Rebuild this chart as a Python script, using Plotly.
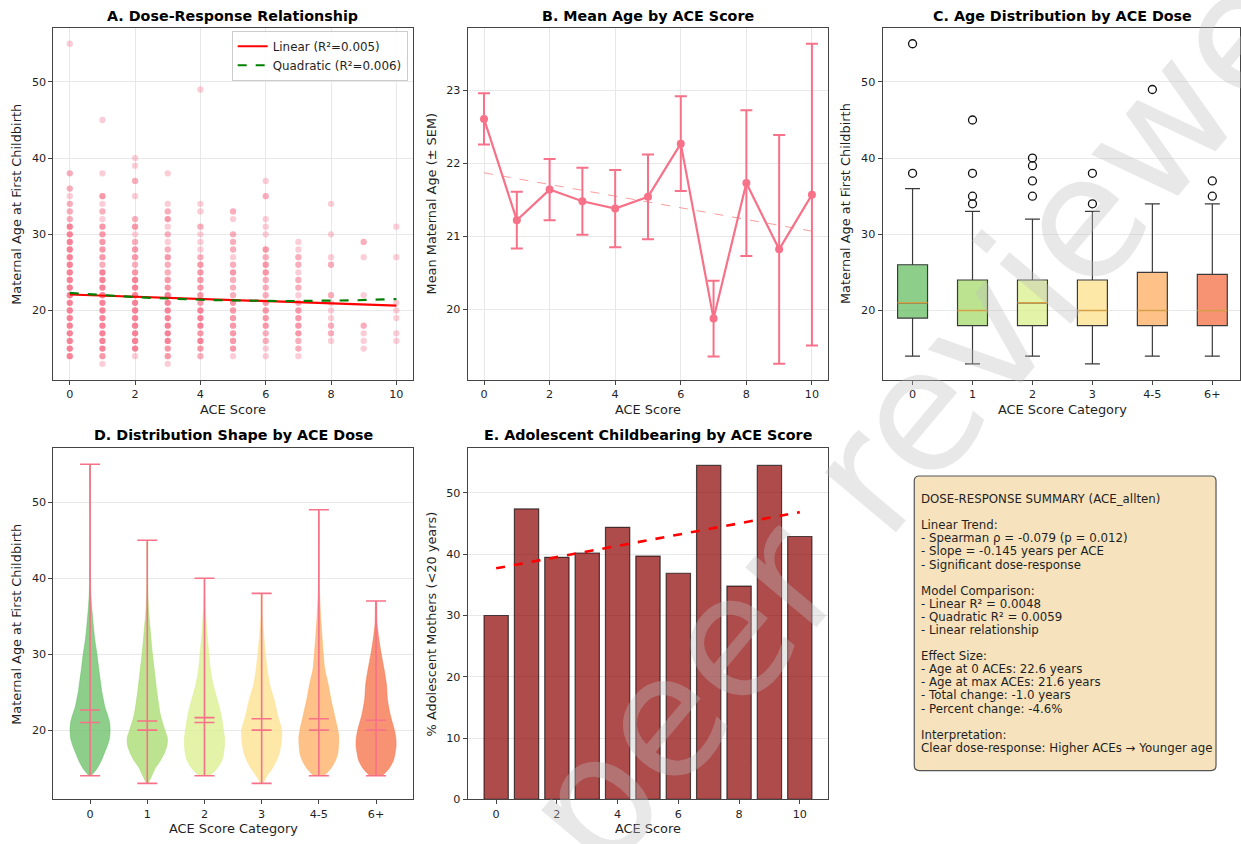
import numpy as np
import plotly.graph_objects as go

W, H = 1241, 844
FONT = "DejaVu Sans"
PINK = "#f77189"
INK = "#1f1f1f"

# ---------------- data ----------------
ace_scores = list(range(11))

# A. observed ages at first birth per ACE score, and number of mothers sharing each age
ages_by_score = [
    [55, 38, 36, 35, 34, 33, 32, 31, 30, 29, 28, 27, 26, 25, 24, 23, 22, 21, 20, 19, 18, 17, 16, 15, 14],
    [45, 38, 35, 34, 33, 32, 31, 30, 29, 28, 27, 26, 25, 24, 23, 22, 21, 20, 19, 18, 17, 16, 15, 14, 13],
    [40, 39, 37, 35, 32, 31, 30, 29, 28, 27, 26, 25, 24, 23, 22, 21, 20, 19, 18, 17, 16, 15, 14],
    [38, 34, 33, 32, 31, 30, 29, 28, 27, 26, 25, 24, 23, 22, 21, 20, 19, 18, 17, 16, 15, 14, 13],
    [49, 34, 33, 31, 30, 29, 28, 27, 26, 25, 24, 23, 22, 21, 20, 19, 18, 17, 16, 15, 14],
    [33, 32, 30, 29, 28, 27, 26, 25, 24, 23, 22, 21, 20, 19, 18, 17, 16, 15, 14],
    [37, 35, 32, 31, 30, 28, 27, 26, 25, 24, 23, 22, 21, 20, 19, 18, 17, 16, 15, 14],
    [29, 28, 27, 26, 25, 24, 23, 22, 21, 20, 19, 18, 17, 16, 15, 14],
    [34, 30, 27, 26, 22, 21, 20, 19, 18, 17, 16],
    [29, 27, 22, 18, 17, 16, 15],
    [31, 27, 21, 20, 19, 17, 16],
]
counts_by_score = [
    [1, 2, 2, 1, 2, 2, 2, 5, 5, 5, 5, 5, 5, 5, 5, 5, 5, 5, 5, 5, 5, 5, 5, 5, 5],
    [1, 1, 3, 1, 2, 1, 3, 3, 3, 3, 3, 2, 5, 5, 5, 5, 5, 5, 5, 5, 5, 5, 5, 3, 1],
    [1, 1, 2, 1, 2, 3, 1, 2, 3, 3, 2, 3, 5, 5, 5, 5, 5, 5, 5, 5, 5, 5, 1],
    [1, 1, 2, 3, 1, 2, 1, 2, 3, 2, 2, 3, 3, 5, 5, 5, 5, 5, 5, 5, 3, 3, 1],
    [1, 1, 1, 2, 1, 1, 1, 2, 3, 3, 3, 3, 3, 3, 5, 5, 5, 3, 5, 3, 2],
    [2, 1, 2, 2, 2, 1, 2, 3, 2, 2, 2, 3, 3, 3, 3, 3, 3, 3, 1],
    [1, 2, 1, 1, 1, 3, 2, 3, 3, 2, 2, 2, 3, 3, 3, 3, 2, 2, 1, 1],
    [1, 1, 2, 2, 1, 2, 2, 1, 2, 3, 3, 3, 3, 2, 2, 1],
    [1, 1, 1, 2, 2, 1, 1, 1, 2, 2, 1],
    [2, 1, 1, 2, 1, 1, 1],
    [1, 1, 1, 1, 1, 1, 1],
]
linear_coef = (22.10, -0.145)            # intercept, slope
quadratic_coef = (22.30, -0.320, 0.024)  # c0, c1, c2

# B. mean age and SEM per ACE score, with linear trend
mean_age = [22.61, 21.22, 21.64, 21.48, 21.38, 21.54, 22.27, 19.87, 21.73, 20.82, 21.57]
sem_age = [0.35, 0.39, 0.42, 0.46, 0.53, 0.58, 0.65, 0.52, 1.00, 1.57, 2.07]
mean_trend = (21.87, -0.080)

# C/D. grouped ACE categories
categories = ["0", "1", "2", "3", "4-5", "6+"]
cat_colors = ["#66bd63", "#a6d96a", "#d9ef8b", "#fee08b", "#fdae61", "#f46d43"]
box_q1 = [19, 18, 18, 18, 18, 18]
box_median = [21, 20, 21, 20, 20, 20]
box_q3 = [26, 24, 24, 24, 25, 24.75]
box_low = [14, 13, 14, 13, 14, 14]
box_high = [36, 33, 32, 33, 34, 34]
box_outliers = [[38, 55], [34, 35, 38, 45], [35, 37, 39, 40], [34, 38], [49], [35, 37]]

cat_min = [14, 13, 14, 13, 14, 14]
cat_max = [55, 45, 40, 38, 49, 37]
cat_mean = [22.65, 21.2, 21.65, 21.5, 21.5, 21.3]
cat_med = [21, 20, 21, 20, 20, 20]

# violin density profiles (relative width at each age)
violin_ages = [
    [14, 15, 16, 17, 18, 19, 20, 21, 22, 23, 24, 25, 26, 28, 30, 32, 34, 36, 38, 42, 48, 55],
    [13, 14, 15, 16, 17, 18, 19, 20, 22, 25, 28, 30, 33, 36, 38, 41, 45],
    [14, 15, 16, 17, 18, 19, 20, 22, 24, 26, 28, 30, 33, 36, 38, 40],
    [13, 14, 15, 16, 17, 18, 19, 20, 22, 24, 26, 28, 30, 33, 35, 38],
    [14, 15, 16, 17, 18, 19, 20, 22, 24, 26, 28, 30, 33, 35, 38, 42, 49],
    [14, 15, 16, 17, 18, 19, 20, 22, 24, 26, 28, 30, 32, 34, 37],
]
violin_density = [
    [1, 7, 11, 14, 17, 19, 19.5, 19, 17, 14.5, 13, 11.5, 10.5, 8.5, 6.7, 4.5, 3, 1.7, 0.8, 0.3, 0.15, 0.1],
    [0.7, 4.3, 7.7, 12.7, 16.5, 19, 19.3, 17, 12.7, 9.3, 6.7, 5, 3, 1.2, 0.6, 0.3, 0.1],
    [5, 12.3, 16.7, 18.5, 19.3, 19.3, 18.3, 16, 12.3, 8.3, 5.7, 4.3, 2.3, 1, 0.5, 0.2],
    [1, 5.3, 10.3, 14.3, 17, 18.5, 19.3, 19.3, 15.3, 12, 7.7, 5.3, 3.7, 1.7, 0.7, 0.2],
    [5, 11.7, 16, 18.3, 19, 19.3, 18.3, 15, 11.7, 9, 5.7, 4.3, 2.7, 1.7, 0.7, 0.3, 0.1],
    [6, 12.7, 16.7, 18.3, 19.3, 19, 17.7, 13.7, 11, 10, 7.7, 5, 2.7, 1, 0.2],
]

# E. adolescent childbearing
adolescent_pct = [30.0, 47.4, 39.5, 40.2, 44.4, 39.7, 36.9, 54.5, 34.8, 54.5, 42.9]
pct_trend = (37.7, 0.917)

summary_lines = [
    "DOSE-RESPONSE SUMMARY (ACE_allten)",
    "",
    "Linear Trend:",
    "- Spearman ρ = -0.079 (p = 0.012)",
    "- Slope = -0.145 years per ACE",
    "- Significant dose-response",
    "",
    "Model Comparison:",
    "- Linear R² = 0.0048",
    "- Quadratic R² = 0.0059",
    "- Linear relationship",
    "",
    "Effect Size:",
    "- Age at 0 ACEs: 22.6 years",
    "- Age at max ACEs: 21.6 years",
    "- Total change: -1.0 years",
    "- Percent change: -4.6%",
    "",
    "Interpretation:",
    "Clear dose-response: Higher ACEs → Younger age",
]


# ---------------- helpers ----------------
def fx(p):
    return p / W


def fy(p):
    return 1 - p / H


def rgba(hex_color, a):
    h = hex_color.lstrip("#")
    r, g, b = int(h[0:2], 16), int(h[2:4], 16), int(h[4:6], 16)
    return f"rgba({r},{g},{b},{a})"


fig = go.Figure()

# ---------------- A: scatter + fits ----------------
sx, sy, sc = [], [], []
for s, ages, cnts in zip(ace_scores, ages_by_score, counts_by_score):
    for a, c in zip(ages, cnts):
        sx.append(s)
        sy.append(a)
        sc.append(rgba(PINK, round(1 - (1 - 0.35) ** c, 3)))
fig.add_trace(go.Scatter(x=sx, y=sy, mode="markers", xaxis="x", yaxis="y",
                         marker=dict(size=6.3, color=sc, line=dict(width=0)),
                         showlegend=False, hoverinfo="skip"))
xs = np.linspace(0, 10, 60)
fig.add_trace(go.Scatter(x=xs, y=linear_coef[0] + linear_coef[1] * xs, mode="lines",
                         xaxis="x", yaxis="y", line=dict(color="#ff0000", width=2.2),
                         name="Linear (R²=0.005)"))
fig.add_trace(go.Scatter(x=xs, y=quadratic_coef[0] + quadratic_coef[1] * xs + quadratic_coef[2] * xs ** 2,
                         mode="lines", xaxis="x", yaxis="y",
                         line=dict(color="#008000", width=2.2, dash="dash"),
                         name="Quadratic (R²=0.006)"))

# ---------------- B: mean +/- SEM ----------------
fig.add_trace(go.Scatter(x=ace_scores, y=[mean_trend[0] + mean_trend[1] * s for s in ace_scores],
                         mode="lines", xaxis="x2", yaxis="y2",
                         line=dict(color="rgba(245,90,90,0.6)", width=1, dash="dash"),
                         showlegend=False, hoverinfo="skip"))
fig.add_trace(go.Scatter(x=ace_scores, y=mean_age, mode="lines+markers", xaxis="x2", yaxis="y2",
                         line=dict(color=PINK, width=2.2), marker=dict(size=8, color=PINK),
                         error_y=dict(type="data", array=sem_age, color=PINK, thickness=2, width=6),
                         showlegend=False))

# ---------------- C: box plots ----------------
for i in range(len(categories)):
    fig.add_trace(go.Box(x=[i], q1=[box_q1[i]], median=[box_median[i]], q3=[box_q3[i]],
                         lowerfence=[box_low[i]], upperfence=[box_high[i]],
                         xaxis="x3", yaxis="y3", width=0.5, whiskerwidth=0.5,
                         fillcolor=rgba(cat_colors[i], 0.75), line=dict(color="#3a3a3a", width=1.2),
                         boxpoints=False, showlegend=False, hoverinfo="skip"))
mx, my = [], []
for i in range(len(categories)):
    mx += [i - 0.25, i + 0.25, None]
    my += [box_median[i], box_median[i], None]
fig.add_trace(go.Scatter(x=mx, y=my, mode="lines", xaxis="x3", yaxis="y3",
                         line=dict(color="#d4a048", width=1.5), showlegend=False, hoverinfo="skip"))
ox, oy = [], []
for i, outs in enumerate(box_outliers):
    ox += [i] * len(outs)
    oy += outs
fig.add_trace(go.Scatter(x=ox, y=oy, mode="markers", xaxis="x3", yaxis="y3",
                         marker=dict(symbol="circle-open", size=8, color="#111111", line=dict(width=1.3)),
                         showlegend=False, hoverinfo="skip"))

# ---------------- D: violins ----------------
for i in range(len(categories)):
    ages = violin_ages[i]
    dens = np.array(violin_density[i], dtype=float)
    half = 0.35 * dens / dens.max()
    px_ = list(i - half) + list((i + half)[::-1])
    py_ = list(ages) + list(ages[::-1])
    fig.add_trace(go.Scatter(x=px_, y=py_, mode="lines", fill="toself", xaxis="x4", yaxis="y4",
                             fillcolor=rgba(cat_colors[i], 0.75),
                             line=dict(color=rgba(cat_colors[i], 0.8), width=0.6, shape="spline", smoothing=0.8),
                             showlegend=False, hoverinfo="skip"))
vx, vy = [], []
for i in range(len(categories)):
    vx += [i, i, None]
    vy += [cat_min[i], cat_max[i], None]
    for v in (cat_min[i], cat_max[i], cat_mean[i], cat_med[i]):
        vx += [i - 0.175, i + 0.175, None]
        vy += [v, v, None]
fig.add_trace(go.Scatter(x=vx, y=vy, mode="lines", xaxis="x4", yaxis="y4",
                         line=dict(color=PINK, width=1.6), showlegend=False, hoverinfo="skip"))

# ---------------- E: bars ----------------
fig.add_trace(go.Bar(x=ace_scores, y=adolescent_pct, width=0.8, xaxis="x5", yaxis="y5",
                     marker=dict(color="rgba(139,0,0,0.7)", line=dict(color="rgba(0,0,0,0.65)", width=1.2)),
                     showlegend=False, hoverinfo="skip"))
fig.add_trace(go.Scatter(x=ace_scores, y=[pct_trend[0] + pct_trend[1] * s for s in ace_scores],
                         mode="lines", xaxis="x5", yaxis="y5",
                         line=dict(color="#ff0000", width=2.6, dash="dash"),
                         showlegend=False, hoverinfo="skip"))

# ---------------- axes ----------------
tickfont = dict(family=FONT, size=11.2, color=INK)


def axis(domain, rng, grid, **kw):
    d = dict(domain=domain, range=rng, showline=True, mirror=True, linecolor="#444444", linewidth=1,
             ticks="outside", ticklen=4, tickwidth=1, tickcolor="#444444", tickfont=tickfont,
             showgrid=grid, gridcolor="#e8e8e8", gridwidth=0.8, zeroline=False)
    d.update(kw)
    return d


top_y = [fy(383), fy(28)]
bot_y = [fy(806), fy(452)]
colA = [fx(53.5), fx(413)]
colB = [fx(468), fx(829)]
colC = [fx(883.3), 1.0]

fig.update_layout(
    xaxis=axis(colA, [-0.5, 10.5], True, anchor="y", tickvals=[0, 2, 4, 6, 8, 10]),
    yaxis=axis(top_y, [10.9, 57.1], True, anchor="x", tickvals=[20, 30, 40, 50]),
    xaxis2=axis(colB, [-0.5, 10.5], True, anchor="y2", tickvals=[0, 2, 4, 6, 8, 10]),
    yaxis2=axis(top_y, [19.03, 23.86], True, anchor="x2", tickvals=[20, 21, 22, 23]),
    xaxis3=axis(colC, [-0.5, 5.462], False, anchor="y3", tickvals=list(range(6)), ticktext=categories),
    yaxis3=axis(top_y, [10.9, 57.1], True, anchor="x3", tickvals=[20, 30, 40, 50]),
    xaxis4=axis(colA, [-0.64, 5.64], False, anchor="y4", tickvals=list(range(6)), ticktext=categories),
    yaxis4=axis(bot_y, [10.9, 57.1], True, anchor="x4", tickvals=[20, 30, 40, 50]),
    xaxis5=axis(colB, [-0.94, 10.94], False, anchor="y5", tickvals=[0, 2, 4, 6, 8, 10]),
    yaxis5=axis(bot_y, [0, 57.3], True, anchor="x5", tickvals=[0, 10, 20, 30, 40, 50]),
)

# ---------------- text ----------------
ann = []


def label(text, x, y, size, angle=0, bold=False, **kw):
    t = f"<b>{text}</b>" if bold else text
    d = dict(text=t, x=fx(x), y=fy(y), xref="paper", yref="paper", showarrow=False,
             xanchor="center", yanchor="middle", textangle=angle,
             font=dict(family=FONT, size=size, color="#000000" if bold else INK))
    d.update(kw)
    ann.append(d)


label("A. Dose-Response Relationship", 233, 16.5, 14.3, bold=True)
label("B. Mean Age by ACE Score", 648.5, 16.5, 14.3, bold=True)
label("C. Age Distribution by ACE Dose", 1063, 16.5, 14.3, bold=True)
label("D. Distribution Shape by ACE Dose", 234, 439, 14.3, bold=True)
label("E. Adolescent Childbearing by ACE Score", 649, 439, 14.3, bold=True)

label("ACE Score", 233, 413, 12.9)
label("ACE Score", 648.5, 413, 12.9)
label("ACE Score Category", 1063, 413, 12.9)
label("ACE Score Category", 234, 835, 12.9)
label("ACE Score", 649, 835, 12.9)

label("Maternal Age at First Childbirth", 17, 205.5, 12.9, angle=-90)
label("Mean Maternal Age (± SEM)", 432, 205.5, 12.9, angle=-90)
label("Maternal Age at First Childbirth", 846, 205.5, 12.9, angle=-90)
label("Maternal Age at First Childbirth", 17, 629, 12.9, angle=-90)
label("% Adolescent Mothers (<20 years)", 432, 629, 12.9, angle=-90)

# summary box text
for k, line in enumerate(summary_lines):
    if line:
        label(line, 920, 503.3 + 13.2 * k, 11.8, xanchor="left")

# watermark
ann.append(dict(text="peer reviewed", x=fx(949), y=fy(381), xref="paper", yref="paper",
                showarrow=False, textangle=-50, xanchor="center", yanchor="middle",
                font=dict(family=FONT, size=170, color="rgba(190,190,190,0.35)")))

# rounded summary box (paper coordinates)
x0, x1, y0, y1, r = 915, 1217, 480, 777, 5
pts = lambda x, y: f"{fx(x):.5f},{fy(y):.5f}"
path = (f"M {pts(x0 + r, y0)} L {pts(x1 - r, y0)} Q {pts(x1, y0)} {pts(x1, y0 + r)} "
        f"L {pts(x1, y1 - r)} Q {pts(x1, y1)} {pts(x1 - r, y1)} L {pts(x0 + r, y1)} "
        f"Q {pts(x0, y1)} {pts(x0, y1 - r)} L {pts(x0, y0 + r)} Q {pts(x0, y0)} {pts(x0 + r, y0)} Z")
fig.add_shape(type="path", xref="paper", yref="paper", path=path,
              fillcolor="rgba(245,222,179,0.85)", line=dict(color="#555555", width=1.2), layer="below")

fig.update_layout(
    width=W, height=H, margin=dict(l=0, r=0, t=0, b=0),
    paper_bgcolor="white", plot_bgcolor="white",
    font=dict(family=FONT, color=INK),
    annotations=ann,
    boxmode="overlay",
    legend=dict(x=fx(408), y=fy(31), xanchor="right", yanchor="top",
                bgcolor="rgba(255,255,255,0.85)", bordercolor="#cccccc", borderwidth=1,
                font=dict(family=FONT, size=11.9, color=INK), tracegroupgap=0),
)

fig.write_html("out.html")
